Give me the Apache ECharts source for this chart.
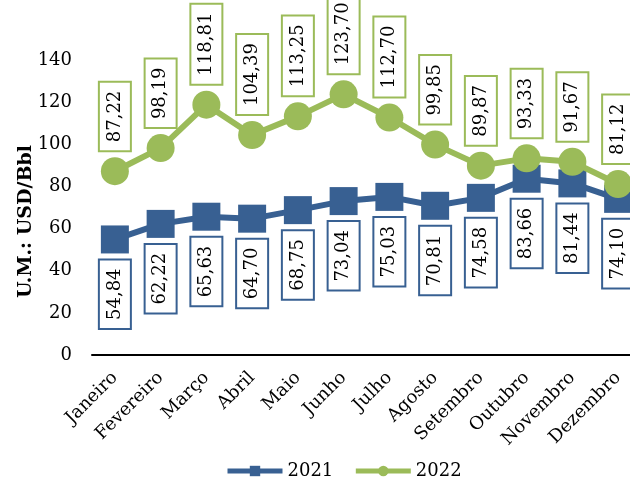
<!DOCTYPE html>
<html>
<head>
<meta charset="utf-8">
<script src="https://cdn.jsdelivr.net/npm/echarts@6/dist/echarts.min.js"></script>
<style>
  html, body { margin: 0; padding: 0; background: #ffffff; }
  #chart { width: 630px; height: 480px; }
</style>
</head>
<body>
<div id="chart"></div>
<script>
// Monthly oil price, USD per barrel
const months = ['Janeiro', 'Fevereiro', 'Março', 'Abril', 'Maio', 'Junho', 'Julho', 'Agosto', 'Setembro', 'Outubro', 'Novembro', 'Dezembro'];
const values2021 = [54.84, 62.22, 65.63, 64.70, 68.75, 73.04, 75.03, 70.81, 74.58, 83.66, 81.44, 74.10];
const values2022 = [87.22, 98.19, 118.81, 104.39, 113.25, 123.70, 112.70, 99.85, 89.87, 93.33, 91.67, 81.12];
const yTicks = [0, 20, 40, 60, 80, 100, 120, 140];

const FONT = 'DejaVu Serif';
const BLUE = '#386092';
const GREEN = '#9BBB59';

const fmt = p => p.value.toFixed(2).replace('.', ',');

// Vertical value box above (2022) or below (2021) each point
function boxLabel(color, above) {
  return {
    show: true,
    position: above ? 'top' : 'bottom',
    distance: 7,
    rotate: 90,
    align: above ? 'left' : 'right',
    verticalAlign: 'middle',
    formatter: fmt,
    fontFamily: FONT,
    fontSize: 18,
    color: '#000',
    lineHeight: 22,
    backgroundColor: '#fff',
    borderColor: color,
    borderWidth: 2,
    padding: [4, 8, 4, 8]
  };
}

const chart = echarts.init(document.getElementById('chart'), null, { renderer: 'canvas' });
chart.setOption({
  animation: false,
  textStyle: { fontFamily: FONT },
  grid: { left: 92, right: -11, top: 60, bottom: 125, containLabel: false, outerBoundsMode: 'none' },
  legend: {
    top: 457,
    left: 220,
    itemWidth: 55,
    itemHeight: 13,
    itemGap: 20,
    lineStyle: { width: 5 },
    textStyle: { fontFamily: FONT, fontSize: 18, color: '#000' },
    data: ['2021', '2022']
  },
  xAxis: {
    type: 'category',
    data: months,
    boundaryGap: true,
    axisLine: { lineStyle: { color: '#000', width: 2 } },
    axisTick: { show: false },
    axisLabel: { rotate: 45, margin: 20, interval: 0, fontFamily: FONT, fontSize: 18, color: '#000' }
  },
  yAxis: {
    type: 'value',
    min: yTicks[0],
    max: yTicks[yTicks.length - 1],
    interval: 20,
    name: 'U.M.: USD/Bbl',
    nameLocation: 'middle',
    nameGap: 56,
    nameMoveOverlap: false,
    nameTextStyle: { fontFamily: FONT, fontSize: 19, fontWeight: 'bold', color: '#000', padding: [0, 28, 0, 0] },
    axisLine: { show: false },
    axisTick: { show: false },
    splitLine: { show: false },
    axisLabel: { margin: 20, fontFamily: FONT, fontSize: 18, color: '#000' }
  },
  series: [
    {
      name: '2021',
      type: 'line',
      data: values2021,
      symbol: 'rect',
      symbolSize: 28,
      itemStyle: { color: BLUE },
      lineStyle: { color: BLUE, width: 6 },
      label: boxLabel(BLUE, false),
      z: 2
    },
    {
      name: '2022',
      type: 'line',
      data: values2022,
      symbol: 'circle',
      symbolSize: 28,
      itemStyle: { color: GREEN },
      lineStyle: { color: GREEN, width: 6 },
      label: boxLabel(GREEN, true),
      z: 3
    }
  ]
});
</script>
</body>
</html>
